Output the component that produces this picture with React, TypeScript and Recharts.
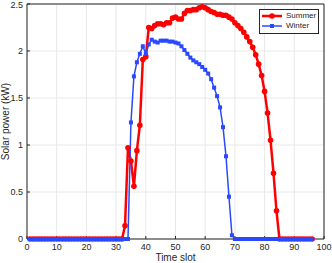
import { LineChart, Line, XAxis, YAxis, CartesianGrid, ReferenceLine } from 'recharts'

// time slots run 1..96, values in kW
const SUMMER = [
  0, 0, 0, 0, 0, 0, 0, 0, 0, 0, 0, 0, 0, 0, 0, 0,
  0, 0, 0, 0, 0, 0, 0, 0, 0, 0, 0, 0, 0, 0, 0, 0,
  0.14, 0.97, 0.83, 0.56, 0.94, 1.21, 1.91, 1.94,
  2.25, 2.24, 2.27, 2.29, 2.29, 2.28, 2.3, 2.3, 2.35, 2.36,
  2.34, 2.34, 2.4, 2.43, 2.43, 2.44, 2.44, 2.46, 2.47, 2.46,
  2.44, 2.42, 2.41, 2.39, 2.39, 2.38, 2.38, 2.36, 2.34, 2.3,
  2.27, 2.24, 2.2, 2.15, 2.1, 2.04, 1.96, 1.86, 1.74, 1.57,
  1.34, 1.05, 0.7, 0.3,
  0, 0, 0, 0, 0, 0, 0, 0, 0, 0, 0, 0,
]

const WINTER = [
  0, 0, 0, 0, 0, 0, 0, 0, 0, 0, 0, 0, 0, 0, 0, 0, 0,
  0, 0, 0, 0, 0, 0, 0, 0, 0, 0, 0, 0, 0, 0, 0, 0, 0,
  1.24, 1.73, 1.88, 1.97, 2.05, 1.97,
  2.07, 2.12, 2.1, 2.09, 2.11, 2.11, 2.11, 2.1, 2.1, 2.09,
  2.08, 2.05, 2.01, 1.97, 1.93, 1.9, 1.88, 1.86, 1.83, 1.8,
  1.76, 1.7, 1.61, 1.52, 1.4, 1.19, 0.88, 0.45, 0.04,
  0, 0, 0, 0, 0, 0, 0, 0, 0, 0, 0, 0, 0, 0,
  0, 0, 0, 0, 0, 0, 0, 0, 0, 0, 0, 0, 0,
]

const SERIES = ['Summer', 'Winter']
const X_TICKS = [0, 10, 20, 30, 40, 50, 60, 70, 80, 90, 100]
const Y_TICKS = [0, 0.5, 1, 1.5, 2, 2.5]

const data = SUMMER.map((v, i) => ({ slot: i + 1, summer: v, winter: WINTER[i] }))

const RED = '#ff0000'
const BLUE = '#2a48ff'
const INK = '#262626'
const FONT = '"Liberation Sans", Arial, Helvetica, sans-serif'

function RoundDot(props: any) {
  const { cx, cy, index } = props
  return <circle key={`s-${index}`} cx={cx} cy={cy} r={2.8} fill={RED} />
}

function SquareDot(props: any) {
  const { cx, cy, index } = props
  return <rect key={`w-${index}`} x={cx - 2} y={cy - 2} width={4} height={4} fill={BLUE} />
}

function XLabel({ viewBox }: any) {
  const x = viewBox.x + viewBox.width / 2
  return (
    <text x={x} y={viewBox.y + 22} textAnchor="middle" fontSize={10} fill={INK} fontFamily={FONT}>
      Time slot
    </text>
  )
}

function YLabel({ viewBox }: any) {
  const x = 5
  const y = viewBox.y + viewBox.height / 2
  return (
    <text
      x={x}
      y={y}
      transform={`rotate(-90 ${x} ${y})`}
      textAnchor="middle"
      dominantBaseline="central"
      fontSize={10}
      fill={INK}
      fontFamily={FONT}
    >
      Solar power (kW)
    </text>
  )
}

// MATLAB-style legend box, laid over the top right of the plot
function LegendBox() {
  const row = (name: string, i: number) => (
    <div key={name} style={{ display: 'flex', alignItems: 'center', height: 10 }}>
      <svg width={24} height={10}>
        <line x1={2} y1={5} x2={22} y2={5} stroke={i === 0 ? RED : BLUE} strokeWidth={i === 0 ? 2.5 : 1.5} />
        {i === 0 ? (
          <circle cx={12} cy={5} r={2.8} fill={RED} />
        ) : (
          <rect x={10} y={3} width={4} height={4} fill={BLUE} />
        )}
      </svg>
      <span style={{ marginLeft: 2 }}>{name}</span>
    </div>
  )
  return (
    <div
      style={{
        position: 'absolute',
        left: 259,
        top: 9,
        border: `1px solid ${INK}`,
        background: '#fff',
        width: 58,
        height: 21,
        padding: '1px 0',
        fontSize: 8,
        lineHeight: '10px',
        fontFamily: FONT,
        color: INK,
      }}
    >
      {SERIES.map(row)}
    </div>
  )
}

export default function App() {
  return (
    <div style={{ position: 'absolute', left: 0, top: 0, width: 332, height: 263, background: '#fff' }}>
      <LineChart width={332} height={263} data={data} margin={{ top: 4, right: 8, bottom: 0, left: 0 }}>
        <CartesianGrid stroke="#e8e8e8" />
        <XAxis
          dataKey="slot"
          type="number"
          domain={[0, 100]}
          ticks={X_TICKS}
          height={24}
          stroke={INK}
          tickSize={-3}
          tickMargin={8}
          tick={{ fontSize: 9, fill: INK, fontFamily: FONT }}
          label={<XLabel />}
        />
        <YAxis
          type="number"
          domain={[0, 2.5]}
          ticks={Y_TICKS}
          width={27}
          stroke={INK}
          tickSize={-3}
          tickMargin={7}
          tick={{ fontSize: 9, fill: INK, fontFamily: FONT }}
          label={<YLabel />}
        />
        <ReferenceLine y={2.5} stroke={INK} />
        <ReferenceLine x={100} stroke={INK} />
        <Line
          dataKey="summer"
          name={SERIES[0]}
          stroke={RED}
          strokeWidth={2.5}
          dot={RoundDot}
          activeDot={false}
          isAnimationActive={false}
        />
        <Line
          dataKey="winter"
          name={SERIES[1]}
          stroke={BLUE}
          strokeWidth={1.5}
          dot={SquareDot}
          activeDot={false}
          isAnimationActive={false}
        />
      </LineChart>
      <LegendBox />
    </div>
  )
}
